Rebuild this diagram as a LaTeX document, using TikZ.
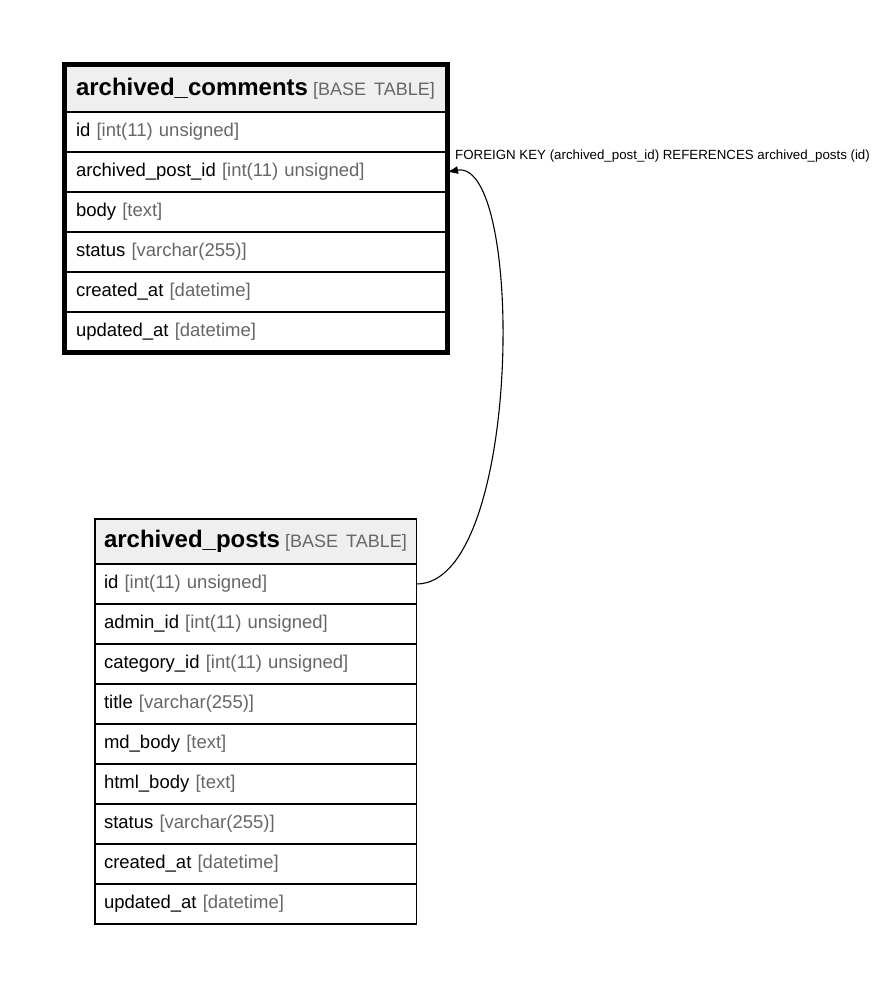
\documentclass[tikz,border=0pt]{standalone}
\usepackage{fontspec}
\setmainfont{Liberation Sans}
\usetikzlibrary{positioning,fit,arrows.meta}
\definecolor{headgray}{HTML}{EFEFEF}
\definecolor{typegray}{HTML}{666666}
\newcommand{\coltype}[1]{{\color{typegray}[#1]}}

\begin{document}
\begin{tikzpicture}[x=1pt, y=-1pt,
  tablebox/.style={draw, line width=1.2pt, outer sep=0pt, inner ysep=0pt, align=left},
  tablehead/.style={tablebox, fill=headgray, font=\fontsize{24}{28}\selectfont},
  tablerow/.style={tablebox, minimum height=40pt, font=\fontsize{18.5}{22}\selectfont},
  commentcell/.style={text width=359.5pt, inner xsep=11.5pt},
  postcell/.style={text width=303.5pt, inner xsep=9pt},
  fkedge/.style={line width=1.1pt, -{Latex[length=11pt,width=8pt]}},
  fklabel/.style={font=\fontsize{13.3}{16}\selectfont, inner sep=0pt}]

  \useasboundingbox (0,0) rectangle (884,987);

  % archived_comments table
  \node[tablehead, commentcell, minimum height=47.5pt, anchor=north west] (c1h) at (64.5,64.5)
  {\mbox{\textbf{archived\_comments}\hspace{5pt}{\fontsize{18}{22}\selectfont\coltype{BASE TABLE}}}};
  \node[tablerow, commentcell, below=0pt of c1h] (c1r1) {id \coltype{int(11) unsigned}};
  \node[tablerow, commentcell, below=0pt of c1r1] (c1r2) {archived\_post\_id \coltype{int(11) unsigned}};
  \node[tablerow, commentcell, below=0pt of c1r2] (c1r3) {body \coltype{text}};
  \node[tablerow, commentcell, below=0pt of c1r3] (c1r4) {status \coltype{varchar(255)}};
  \node[tablerow, commentcell, below=0pt of c1r4] (c1r5) {created\_at \coltype{datetime}};
  \node[tablerow, commentcell, below=0pt of c1r5] (c1r6) {updated\_at \coltype{datetime}};

  % thick frame round it
  \node[draw, line width=5pt, inner sep=0pt, fit=(c1h)(c1r6)] (c1) {};

  % archived_posts table
  \node[tablehead, postcell, minimum height=45pt, anchor=north west] (p1h) at (95,519)
  {\mbox{\textbf{archived\_posts}\hspace{5pt}{\fontsize{18}{22}\selectfont\coltype{BASE TABLE}}}};
  \node[tablerow, postcell, below=0pt of p1h] (p1r1) {id \coltype{int(11) unsigned}};
  \node[tablerow, postcell, below=0pt of p1r1] (p1r2) {admin\_id \coltype{int(11) unsigned}};
  \node[tablerow, postcell, below=0pt of p1r2] (p1r3) {category\_id \coltype{int(11) unsigned}};
  \node[tablerow, postcell, below=0pt of p1r3] (p1r4) {title \coltype{varchar(255)}};
  \node[tablerow, postcell, below=0pt of p1r4] (p1r5) {md\_body \coltype{text}};
  \node[tablerow, postcell, below=0pt of p1r5] (p1r6) {html\_body \coltype{text}};
  \node[tablerow, postcell, below=0pt of p1r6] (p1r7) {status \coltype{varchar(255)}};
  \node[tablerow, postcell, below=0pt of p1r7] (p1r8) {created\_at \coltype{datetime}};
  \node[tablerow, postcell, below=0pt of p1r8] (p1r9) {updated\_at \coltype{datetime}};

  % foreign key
  \draw[fkedge] (p1r1.east) .. controls +(106,0) and +(78,-14) .. (c1r2.east);
  \node[fklabel, anchor=west] (fk) at ([xshift=8pt,yshift=16pt]c1r2.east)
  {FOREIGN KEY (archived\_post\_id) REFERENCES archived\_posts (id)};

\end{tikzpicture}
\end{document}
